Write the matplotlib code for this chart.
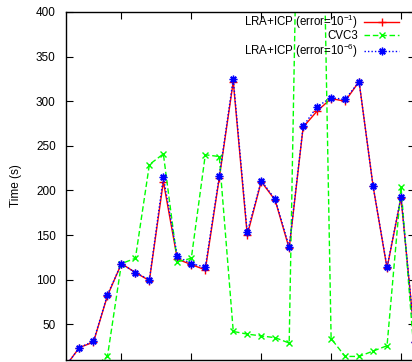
import matplotlib
matplotlib.use("Agg")
import matplotlib.pyplot as plt
import numpy as np

plt.rcParams["font.family"] = ["Liberation Sans", "DejaVu Sans"]
plt.rcParams["mathtext.fontset"] = "custom"
plt.rcParams["mathtext.rm"] = "Liberation Sans"
plt.rcParams["mathtext.it"] = "Liberation Sans:italic"

# benchmark index and solve times (s)
instance = list(range(1, 27))
lra_icp_e1 = [3, 24, 30, 82, 118, 108, 99, 210, 123, 117, 111, 214, 322, 150,
              210, 189, 135, 271, 289, 303, 300, 322, 205, 113, 192, 30]
cvc3 = [2, 2, 2, 14, 118, 124, 229, 241, 120, 124, 240, 238, 42, 39,
        37, 35, 29, 900, 900, 34, 14, 14, 20, 26, 204, 5]
lra_icp_e6 = [3, 24, 31, 83, 118, 108, 100, 215, 126, 118, 114, 216, 325, 153,
              211, 190, 137, 272, 294, 304, 302, 322, 205, 114, 193, 30]

labels = ["LRA+ICP (error=10$^{-1}$)", "CVC3", "LRA+ICP (error=10$^{-6}$)"]
yticks = [50, 100, 150, 200, 250, 300, 350, 400]
xticks = [5, 10, 15, 20, 25]

W, H = 412, 362
fig = plt.figure(figsize=(W / 100, H / 100), dpi=100)
left, right, top, bottom = 65.5, 415, 12, 360
ax = fig.add_axes([left / W, 1 - bottom / H, (right - left) / W, (bottom - top) / H])

ax.plot(instance, lra_icp_e1, color="#ff0000", lw=1, marker="+", ms=6, mew=1)
ax.plot(instance, cvc3, color="#00ff00", lw=1, ls=(0, (4, 2)), marker="x", ms=5, mew=1)
ax.plot(instance, lra_icp_e6, color="#0000ff", lw=1, ls=(0, (1, 1.5)),
        marker=(8, 2, 0), ms=5.5, mew=1)

ax.set_xlim(1, 26)
ax.set_ylim(10, 400)
ax.set_xticks(xticks)
ax.set_xticklabels([])
ax.set_yticks(yticks)
ax.tick_params(direction="in", length=5, width=0.8, top=True, right=True,
               labelsize=8.5, pad=7)
ax.set_ylabel("Time (s)", fontsize=8.5, labelpad=10)
for s in ax.spines.values():
    s.set_linewidth(1)

# gnuplot style key, text right aligned before the sample
styles = [dict(color="#ff0000", ls="-", marker="+", ms=6),
          dict(color="#00ff00", ls=(0, (4, 2)), marker="x", ms=5),
          dict(color="#0000ff", ls=(0, (1, 1.5)), marker=(8, 2, 0), ms=5.5)]
rows = [0.960, 0.922, 0.877]
for lab, st, yb in zip(labels, styles, rows):
    ax.text(0.836, yb, lab, transform=ax.transAxes, ha="right", va="baseline",
            fontsize=8.3)
    yl = yb + 0.012
    ax.plot([0.8555, 0.9542], [yl, yl], transform=ax.transAxes, lw=1,
            color=st["color"], ls=st["ls"], clip_on=False)
    ax.plot([0.905], [yl], transform=ax.transAxes, color=st["color"],
            marker=st["marker"], ms=st["ms"], mew=1, ls="none", clip_on=False)

fig.savefig("out.png", dpi=100)
